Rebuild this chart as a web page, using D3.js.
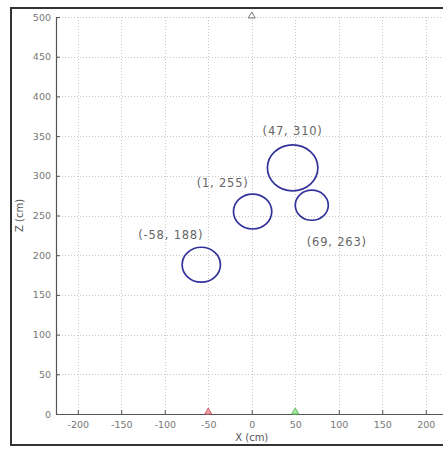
<!DOCTYPE html>
<html><head><meta charset="utf-8">
<script src="https://cdn.jsdelivr.net/npm/d3@7"></script>
<style>html,body{margin:0;background:#fff;overflow:hidden}svg{display:block}</style>
</head><body>
<svg id="c" width="443" height="449"></svg>
<script>
// Data
const pointX = [-58, 1, 47, 69];
const pointZ = [188, 255, 310, 263];
const pointR = [22, 22, 29, 19];
const pointLabels = ["(-58, 188)", "(1, 255)", "(47, 310)", "(69, 263)"];
const xTicks = [-200, -150, -100, -50, 0, 50, 100, 150, 200];
const zTicks = [0, 50, 100, 150, 200, 250, 300, 350, 400, 450, 500];
const markerX = [0, -50, 50];
const markerZ = [500, 0, 0];
const markerFill = ["none", "#f0a0a8", "#a8e8a0"];
const markerStroke = ["#777", "#d06070", "#60c060"];

// Label placement style (anchor, dx, dy in px relative to circle)
const labelStyle = [
  {anchor: "end", dx: 2, dy: -26},
  {anchor: "end", dx: -4, dy: -25},
  {anchor: "middle", dx: 0, dy: -33},
  {anchor: "start", dx: -5, dy: 41}
];

const W = 443;
const svg = d3.select("#c");
const x = d3.scaleLinear().domain([-225, 225]).range([56, 447.5]);
const y = d3.scaleLinear().domain([0, 500]).range([414, 17]);

// outer frame (left, top, bottom edges only; right edge is cropped off)
svg.append("path").attr("d", `M${W + 5},8H11V445H${W + 5}`)
  .attr("fill", "none").attr("stroke", "#333").attr("stroke-width", 2);

// gridlines
const grid = svg.append("g").attr("stroke", "#c8c8c8").attr("stroke-width", 1).attr("stroke-dasharray", "1,2");
grid.selectAll(".gx").data(xTicks).join("line")
  .attr("x1", d => Math.round(x(d)) + 0.5).attr("x2", d => Math.round(x(d)) + 0.5)
  .attr("y1", y(500)).attr("y2", y(0));
grid.selectAll(".gy").data(zTicks.filter(d => d > 0)).join("line")
  .attr("y1", d => Math.round(y(d)) + 0.5).attr("y2", d => Math.round(y(d)) + 0.5)
  .attr("x1", x(-225)).attr("x2", W + 5);

// axes
const fontFam = "DejaVu Sans, Verdana, sans-serif";
const xAxis = d3.axisBottom(x).tickValues(xTicks).tickSizeInner(-4).tickSizeOuter(0).tickPadding(7)
  .tickFormat(d => String(d));
const gx = svg.append("g").attr("transform", `translate(0,${y(0)})`).call(xAxis);
const yAxis = d3.axisLeft(y).tickValues(zTicks).tickSizeInner(-4).tickSizeOuter(0).tickPadding(5);
const gy = svg.append("g").attr("transform", `translate(${x(-225)},0)`).call(yAxis);
[gx, gy].forEach(g => {
  g.select(".domain").attr("stroke", "#555").attr("stroke-width", 1.2);
  g.selectAll(".tick line").attr("stroke", "#555");
  g.selectAll(".tick text").attr("fill", "#777").attr("font-family", fontFam).attr("font-size", 9.5);
});
gx.select(".domain").attr("d", `M${x(-225)},0.5H${W + 5}`);
gy.selectAll(".tick").filter(d => d === 0).select("line").remove();

// axis titles
svg.append("text").attr("x", x(0)).attr("y", 441).attr("text-anchor", "middle")
  .attr("font-family", fontFam).attr("font-size", 10).attr("fill", "#555").text("X (cm)");
svg.append("text").attr("transform", `translate(23,${y(250)}) rotate(-90)`).attr("text-anchor", "middle")
  .attr("font-family", fontFam).attr("font-size", 10).attr("fill", "#555").text("Z (cm)");

// circles
svg.append("g").selectAll("ellipse").data(pointX).join("ellipse")
  .attr("cx", (d, i) => x(d)).attr("cy", (d, i) => y(pointZ[i]))
  .attr("rx", (d, i) => x(pointR[i]) - x(0)).attr("ry", (d, i) => y(0) - y(pointR[i]))
  .attr("fill", "none").attr("stroke", "#32329a").attr("stroke-width", 1.7);

// labels
svg.append("g").selectAll("text").data(pointLabels).join("text")
  .attr("x", (d, i) => x(pointX[i]) + labelStyle[i].dx)
  .attr("y", (d, i) => y(pointZ[i]) + labelStyle[i].dy)
  .attr("text-anchor", (d, i) => labelStyle[i].anchor)
  .attr("font-family", fontFam).attr("font-size", 11.5).attr("letter-spacing", 0.8)
  .attr("fill", "#666").text(d => d);

// markers
svg.append("g").selectAll("path").data(markerX).join("path")
  .attr("d", (d, i) => {
    const cx = x(d), cy = y(markerZ[i]);
    return `M${cx - 3.5},${cy}L${cx + 3.5},${cy}L${cx},${cy - 6}Z`;
  })
  .attr("transform", (d, i) => i === 0 ? `translate(0,1)` : null)
  .attr("fill", (d, i) => markerFill[i]).attr("stroke", (d, i) => markerStroke[i]).attr("stroke-width", 1);
</script>
</body></html>
